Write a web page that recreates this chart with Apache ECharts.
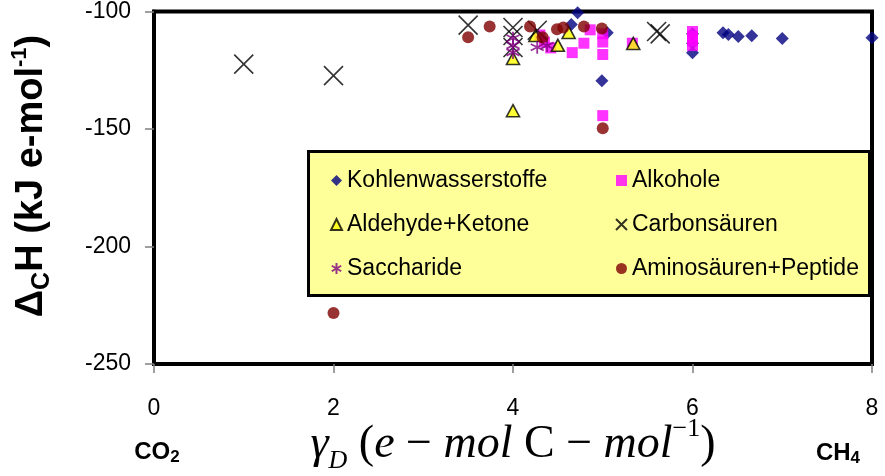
<!DOCTYPE html>
<html>
<head>
<meta charset="utf-8">
<script src="https://cdn.jsdelivr.net/npm/echarts@6/dist/echarts.min.js"></script>
<style>
html,body{margin:0;padding:0;background:#fff;}
#chart{width:885px;height:476px;}
</style>
</head>
<body>
<div id="chart"></div>
<script>
// ---- data ----
const seriesNames = ['Kohlenwasserstoffe','Alkohole','Aldehyde+Ketone','Carbonsäuren','Saccharide','Aminosäuren+Peptide'];
const kohlenwasserstoffe = [[4.72,-100.5],[4.65,-105.5],[5.05,-109],[4.99,-129.5],[6.0,-109.5],[6.0,-113.5],[6.0,-117.5],[6.34,-109],[6.4,-109.8],[6.51,-110.6],[6.66,-110.3],[7.0,-111.5],[8.0,-111.2]];
const alkohole = [[4.3,-110],[4.35,-113],[4.42,-115.5],[4.66,-117.5],[4.79,-113.5],[4.86,-107.8],[5.0,-109.5],[5.0,-113],[5.0,-118.3],[5.0,-144.3],[6.0,-108.5],[6.0,-110.5],[6.0,-112.5],[6.0,-114.5],[5.33,-113.5]];
const aldehydeKetone = [[4.0,-142.2],[4.0,-120],[4.5,-114.4],[4.62,-108.9],[4.25,-110.2],[5.34,-113.6]];
const carbonsaeuren = [[1.0,-122.4],[2.0,-127.3],[3.5,-105.8],[4.0,-106.8],[4.0,-110.2],[4.0,-115.3],[4.27,-108],[5.6,-108.5],[5.64,-109.5]];
const saccharide = [[4.0,-111.4],[4.0,-114.4],[4.0,-117.4],[4.27,-115.2],[4.38,-114.5]];
const aminosaeuren = [[2.0,-228.3],[3.5,-111],[3.74,-106.4],[4.19,-106.4],[4.33,-111],[4.49,-107.6],[4.56,-106.8],[4.79,-106.4],[4.99,-107.2],[5.0,-149.7]];
const xTickValues = [0,2,4,6,8];
const yTickValues = [-250,-200,-150,-100];

const X_PATH = 'path://M0,0L10,10M10,0L0,10';
const AST_PATH = 'path://M5,0L5,10M0.7,2.5L9.3,7.5M0.7,7.5L9.3,2.5';

const chart = echarts.init(document.getElementById('chart'), null, {renderer:'canvas'});
const font = 'Liberation Sans, Arial, sans-serif';
const serif = 'Liberation Serif, Times New Roman, serif';

function sc(name, data, symbol, size, itemStyle){
  return {name, type:'scatter', data, symbol, symbolSize:size, itemStyle,
    emphasis:{disabled:true}, animation:false, clip:false};
}

const legendText = {fontFamily:font, fontSize:23, color:'#000', lineHeight:23};

const option = {
  animation:false,
  backgroundColor:'#fff',
  grid:{left:154, right:13, top:11, bottom:112, show:true, borderColor:'#000', borderWidth:4, backgroundColor:'#fff'},
  xAxis:{type:'value', min:0, max:8, interval:2,
    axisLine:{show:true, lineStyle:{color:'#000', width:4}},
    axisTick:{show:true, length:9, lineStyle:{color:'#808080', width:1.5}},
    splitLine:{show:false},
    axisLabel:{fontFamily:font, fontSize:23, color:'#000', margin:33,
      formatter:v=> xTickValues.includes(v) ? String(v) : ''}},
  yAxis:{type:'value', min:-250, max:-100, interval:50,
    axisLine:{show:true, lineStyle:{color:'#000', width:4}},
    axisTick:{show:true, length:9, lineStyle:{color:'#808080', width:1.5}},
    splitLine:{show:false},
    axisLabel:{fontFamily:font, fontSize:23, color:'#000', margin:23,
      formatter:v=> yTickValues.includes(v) ? String(v) : ''}},
  legend:[
    {orient:'vertical', left:325, top:164, itemWidth:11, itemHeight:11, itemGap:21,
     textStyle:legendText, selectedMode:false,
     data:[seriesNames[0], seriesNames[2], seriesNames[4]]},
    {orient:'vertical', left:610, top:164, itemWidth:11, itemHeight:11, itemGap:21,
     textStyle:legendText, selectedMode:false,
     data:[seriesNames[1], seriesNames[3], seriesNames[5]]}
  ],
  graphic:[
    {type:'rect', left:307, top:150, z:1, shape:{width:561, height:144},
     style:{fill:'#FFFF99', stroke:'#000', lineWidth:3}},
    {type:'text', x:32, y:176, rotation:Math.PI/2, z:5,
     style:{text:'{b|Δ}{s|C}{b|H (kJ e-mol}{p|-1}{b|)}', align:'center', verticalAlign:'middle',
       rich:{
         b:{fontFamily:font, fontWeight:'bold', fontSize:38, lineHeight:46, verticalAlign:'middle', fill:'#000'},
         s:{fontFamily:font, fontWeight:'bold', fontSize:25, lineHeight:25, verticalAlign:'bottom', fill:'#000'},
         p:{fontFamily:font, fontWeight:'bold', fontSize:22, lineHeight:22, verticalAlign:'top', fill:'#000'}
       }}},
    {type:'text', x:513, y:445, z:5,
     style:{text:'{i|γ}{d|D}{r| (}{i|e}{r| − }{i|mol }{r|C}{r| − }{i|mol}{p|−1}{r|)}', align:'center', verticalAlign:'middle',
       rich:{
         i:{fontFamily:serif, fontStyle:'italic', fontSize:46, lineHeight:58, verticalAlign:'middle', fill:'#000'},
         r:{fontFamily:serif, fontSize:46, lineHeight:58, verticalAlign:'middle', fill:'#000'},
         d:{fontFamily:serif, fontStyle:'italic', fontSize:26, lineHeight:25, verticalAlign:'bottom', fill:'#000'},
         p:{fontFamily:serif, fontSize:26, lineHeight:20, verticalAlign:'top', fill:'#000'}
       }}},
    {type:'text', x:157, y:452, z:5,
     style:{text:'{b|CO}{s|2}', align:'center', verticalAlign:'middle',
       rich:{b:{fontFamily:font, fontWeight:'bold', fontSize:24, lineHeight:28, verticalAlign:'middle', fill:'#000'},
             s:{fontFamily:font, fontWeight:'bold', fontSize:17, lineHeight:17, verticalAlign:'bottom', fill:'#000'}}}},
    {type:'text', x:838, y:453, z:5,
     style:{text:'{b|CH}{s|4}', align:'center', verticalAlign:'middle',
       rich:{b:{fontFamily:font, fontWeight:'bold', fontSize:24, lineHeight:28, verticalAlign:'middle', fill:'#000'},
             s:{fontFamily:font, fontWeight:'bold', fontSize:17, lineHeight:17, verticalAlign:'bottom', fill:'#000'}}}}
  ],
  series:[
    sc(seriesNames[0], kohlenwasserstoffe, 'diamond', 13, {color:'#000080'}),
    sc(seriesNames[1], alkohole, 'rect', 11, {color:'#FF00FF'}),
    sc(seriesNames[2], aldehydeKetone, 'triangle', [13,12], {color:'#FFFF00', borderColor:'#000', borderWidth:1.6}),
    sc(seriesNames[3], carbonsaeuren, X_PATH, 19, {color:'transparent', borderColor:'#000', borderWidth:1.6}),
    sc(seriesNames[4], saccharide, AST_PATH, 13, {color:'transparent', borderColor:'#800080', borderWidth:1.8}),
    sc(seriesNames[5], aminosaeuren, 'circle', 12, {color:'#800000'})
  ]
};
chart.setOption(option);
</script>
</body>
</html>
